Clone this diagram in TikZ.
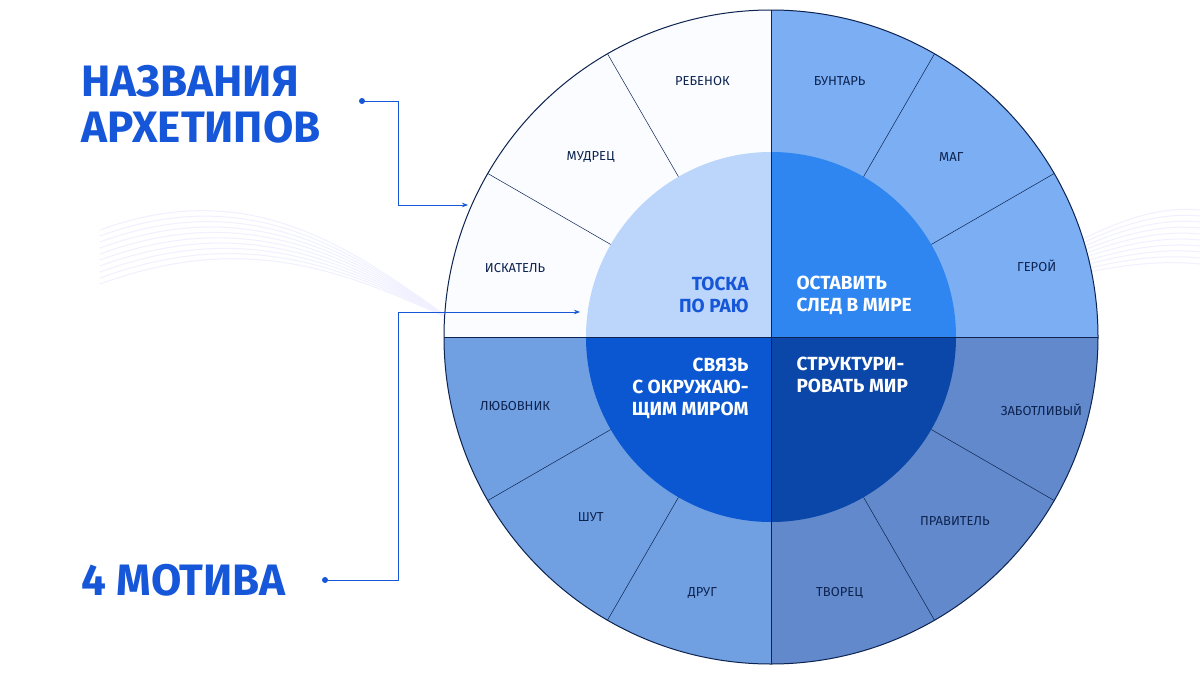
\documentclass[tikz,border=0pt]{standalone}
\usepackage{fontspec}
\setmainfont{Fira Sans}
\usetikzlibrary{arrows.meta}
\usetikzlibrary{positioning}
\usetikzlibrary{calc}
\definecolor{navy}{HTML}{0D2350}
\definecolor{titleblue}{HTML}{1656D8}
\definecolor{tlout}{HTML}{FAFCFF}
\definecolor{tlin}{HTML}{BBD6FA}
\definecolor{trout}{HTML}{7BAEF2}
\definecolor{trin}{HTML}{2F86F0}
\definecolor{blout}{HTML}{70A0E2}
\definecolor{blin}{HTML}{0B57D2}
\definecolor{brout}{HTML}{6189CB}
\definecolor{brin}{HTML}{0B47A8}
\begin{document}
\begin{tikzpicture}[x=1pt, y=1pt,
    seg/.style={font=\fontsize{13}{15}\selectfont, text=navy},
    motif/.style={font=\fontsize{19}{22}\selectfont\bfseries, text=white},
    title/.style={font=\fontsize{44}{46}\selectfont\bfseries, text=titleblue, align=left},
    link/.style={titleblue, line width=0.8pt}]
  \useasboundingbox (0,0) rectangle (1200,-675);
  \fill[white] (0,0) rectangle (1200,-675);
  % faint background waves
  \foreach \k in {0,...,9} {
    \draw[blue!6, line width=1pt] (100,-230-\k*6) .. controls (400,-120-\k*6) and (500,-520+\k*6) .. (800,-400+\k*6);
    \draw[blue!6, line width=1pt] (800,-400+\k*6) .. controls (1000,-300) and (1100,-200-\k*6) .. (1200,-210-\k*6);
  }

  \coordinate (c) at (771,-337);
  % outer quadrants
  \fill[tlout] (c) -- ++(90:327pt) arc[start angle=90, end angle=180, radius=327pt] -- cycle;
  \fill[trout] (c) -- ++(0:327pt) arc[start angle=0, end angle=90, radius=327pt] -- cycle;
  \fill[blout] (c) -- ++(180:327pt) arc[start angle=180, end angle=270, radius=327pt] -- cycle;
  \fill[brout] (c) -- ++(270:327pt) arc[start angle=270, end angle=360, radius=327pt] -- cycle;
  % dividers
  \foreach \a in {30,60,120,150,210,240,300,330}
    \draw[navy, line width=0.5pt] ($(c)+(\a:185pt)$) -- ($(c)+(\a:327pt)$);
  % inner quadrants
  \fill[tlin] (c) -- ++(90:185pt) arc[start angle=90, end angle=180, radius=185pt] -- cycle;
  \fill[trin] (c) -- ++(0:185pt) arc[start angle=0, end angle=90, radius=185pt] -- cycle;
  \fill[blin] (c) -- ++(180:185pt) arc[start angle=180, end angle=270, radius=185pt] -- cycle;
  \fill[brin] (c) -- ++(270:185pt) arc[start angle=270, end angle=360, radius=185pt] -- cycle;
  \draw[navy, line width=1pt] (c) circle[radius=327pt];
  \draw[navy, line width=1pt] ($(c)+(-327pt,0)$) -- ($(c)+(327pt,0)$);
  \draw[navy, line width=1pt] ($(c)+(0,327pt)$) -- ($(c)+(0,-327pt)$);

  % archetypes
  \node[seg] (rebenok) at ($(c)+(105:265pt)$) {РЕБЕНОК};
  \node[seg] (mudrec) at ($(c)+(135:255pt)$) {МУДРЕЦ};
  \node[seg] (iskatel) at ($(c)+(165:265pt)$) {ИСКАТЕЛЬ};
  \node[seg] (buntar) at ($(c)+(75:265pt)$) {БУНТАРЬ};
  \node[seg] (mag) at ($(c)+(45:255pt)$) {МАГ};
  \node[seg] (geroy) at ($(c)+(15:275pt)$) {ГЕРОЙ};
  \node[seg] (lyubovnik) at ($(c)+(195:265pt)$) {ЛЮБОВНИК};
  \node[seg] (shut) at ($(c)+(225:255pt)$) {ШУТ};
  \node[seg] (drug) at ($(c)+(255:265pt)$) {ДРУГ};
  \node[seg] (tvorec) at ($(c)+(285:265pt)$) {ТВОРЕЦ};
  \node[seg] (pravitel) at ($(c)+(315:260pt)$) {ПРАВИТЕЛЬ};
  \node[seg] (zabotl) at ($(c)+(345:280pt)$) {ЗАБОТЛИВЫЙ};

  % motifs
  \node[motif, text=titleblue, align=right, anchor=east] (raj) at (752,-295) {ТОСКА\\ПО РАЮ};
  \node[motif, align=left, anchor=west] (sled) at (793,-295) {ОСТАВИТЬ\\СЛЕД В МИРЕ};
  \node[motif, align=right, anchor=east] (svyaz) at (752,-388) {СВЯЗЬ\\С ОКРУЖАЮ-\\ЩИМ МИРОМ};
  \node[motif, align=left, anchor=west] (struct) at (793,-375) {СТРУКТУРИ-\\РОВАТЬ МИР};

  % callouts
  \fill[white, rounded corners=58pt] (38,-45) rectangle (385,-165);
  \fill[white, rounded corners=50pt] (38,-530) rectangle (345,-630);
  \node[title, anchor=west] (names) at (78,-104) {НАЗВАНИЯ\\АРХЕТИПОВ};
  \node[title, anchor=west] (four) at (78,-580) {4 МОТИВА};
  \coordinate (d1) at (362,-101);
  \coordinate (d2) at (325,-580);
  \coordinate (t1) at (468,-205);
  \coordinate (t2) at (580,-312);
  \fill[titleblue] (d1) circle[radius=3pt];
  \fill[titleblue] (d2) circle[radius=3pt];
  \draw[link, -{Stealth[length=6pt]}] (d1) -| (398,-205) -- (t1);
  \draw[link, -{Stealth[length=6pt]}] (d2) -| (398,-312) -- (t2);
\end{tikzpicture}
\end{document}
